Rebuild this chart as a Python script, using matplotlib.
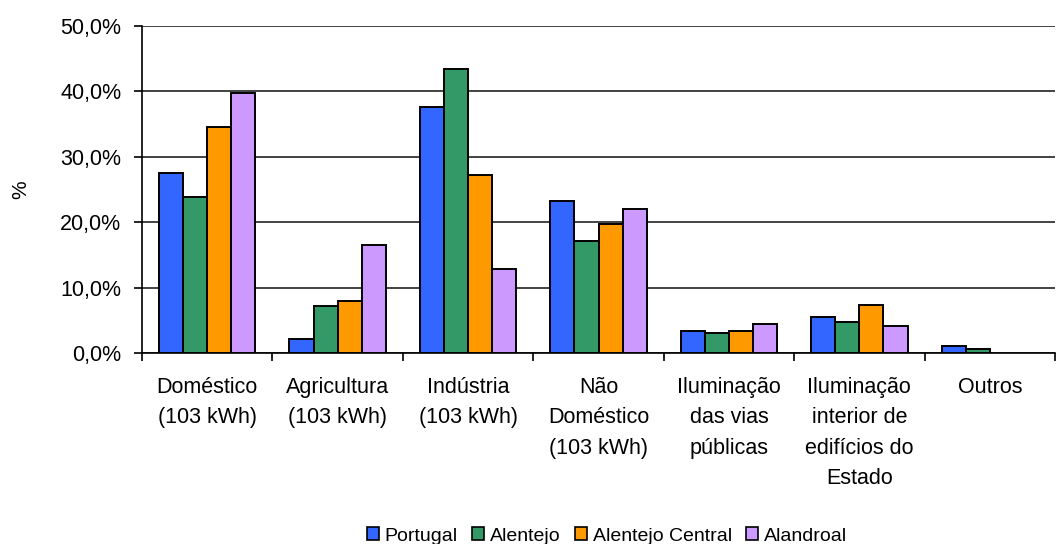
import matplotlib
matplotlib.use('Agg')
import matplotlib.pyplot as plt
import numpy as np
from matplotlib.ticker import FuncFormatter, FixedLocator

plt.rcParams['font.family'] = ['Liberation Sans', 'DejaVu Sans']

categories = ['Doméstico\n(103 kWh)', 'Agricultura\n(103 kWh)', 'Indústria\n(103 kWh)',
              'Não\nDoméstico\n(103 kWh)', 'Iluminação\ndas vias\npúblicas',
              'Iluminação\ninterior de\nedifícios do\nEstado', 'Outros']
series = ['Portugal', 'Alentejo', 'Alentejo Central', 'Alandroal']
portugal = [27.5, 2.1, 37.6, 23.2, 3.4, 5.5, 1.0]
alentejo = [23.9, 7.2, 43.4, 17.1, 3.0, 4.8, 0.6]
alentejo_central = [34.5, 7.9, 27.2, 19.8, 3.4, 7.3, 0.0]
alandroal = [39.7, 16.5, 12.8, 22.0, 4.5, 4.2, 0.0]
colors = ['#3366FF', '#339966', '#FF9900', '#CC99FF']

fig = plt.figure(figsize=(10.57, 5.44), dpi=100)
ax = fig.add_axes([142/1057, 1 - 353/544, 913/1057, 327/544])

x = np.arange(len(categories))
w = 0.185
for i, (vals, name) in enumerate(zip([portugal, alentejo, alentejo_central, alandroal], series)):
    vals = np.array(vals)
    mask = vals > 0
    ax.bar(x[mask] + (i - 1.5) * w, vals[mask], w, color=colors[i], edgecolor='black',
           linewidth=1.4, label=name, zorder=3)

ax.set_xlim(-0.5, len(categories) - 0.5)
ax.set_ylim(0, 50)
ax.set_yticks(np.arange(0, 51, 10))
ax.yaxis.set_major_formatter(FuncFormatter(lambda v, p: ('%.1f%%' % v).replace('.', ',')))
ax.yaxis.grid(True, color='#222222', linewidth=1.2, zorder=0)

ax.set_xticks(x)
ax.set_xticklabels(categories, fontsize=15.5, linespacing=1.6, va='top')
ax.tick_params(axis='x', which='major', length=0, pad=17)
ax.xaxis.set_minor_locator(FixedLocator(np.arange(-0.5, len(categories), 1.0)))
ax.tick_params(axis='x', which='minor', length=6, width=1.2, direction='out')
ax.tick_params(axis='y', labelsize=15.5, length=6, width=1.2, pad=9)

for s in ['top', 'right']:
    ax.spines[s].set_visible(False)
for s in ['left', 'bottom']:
    ax.spines[s].set_linewidth(1.2)

fig.text(21/1057, 1 - 190/544, '%', rotation=90, fontsize=15, ha='center', va='center')

leg = fig.legend(loc='center', bbox_to_anchor=(607/1057, 1 - 536/544), ncol=4, frameon=False,
                 fontsize=14, handlelength=0.6, handleheight=0.6, handletextpad=0.3,
                 columnspacing=0.75)
for h in leg.legend_handles:
    h.set_linewidth(1.2)

fig.savefig('out.png', dpi=100)
